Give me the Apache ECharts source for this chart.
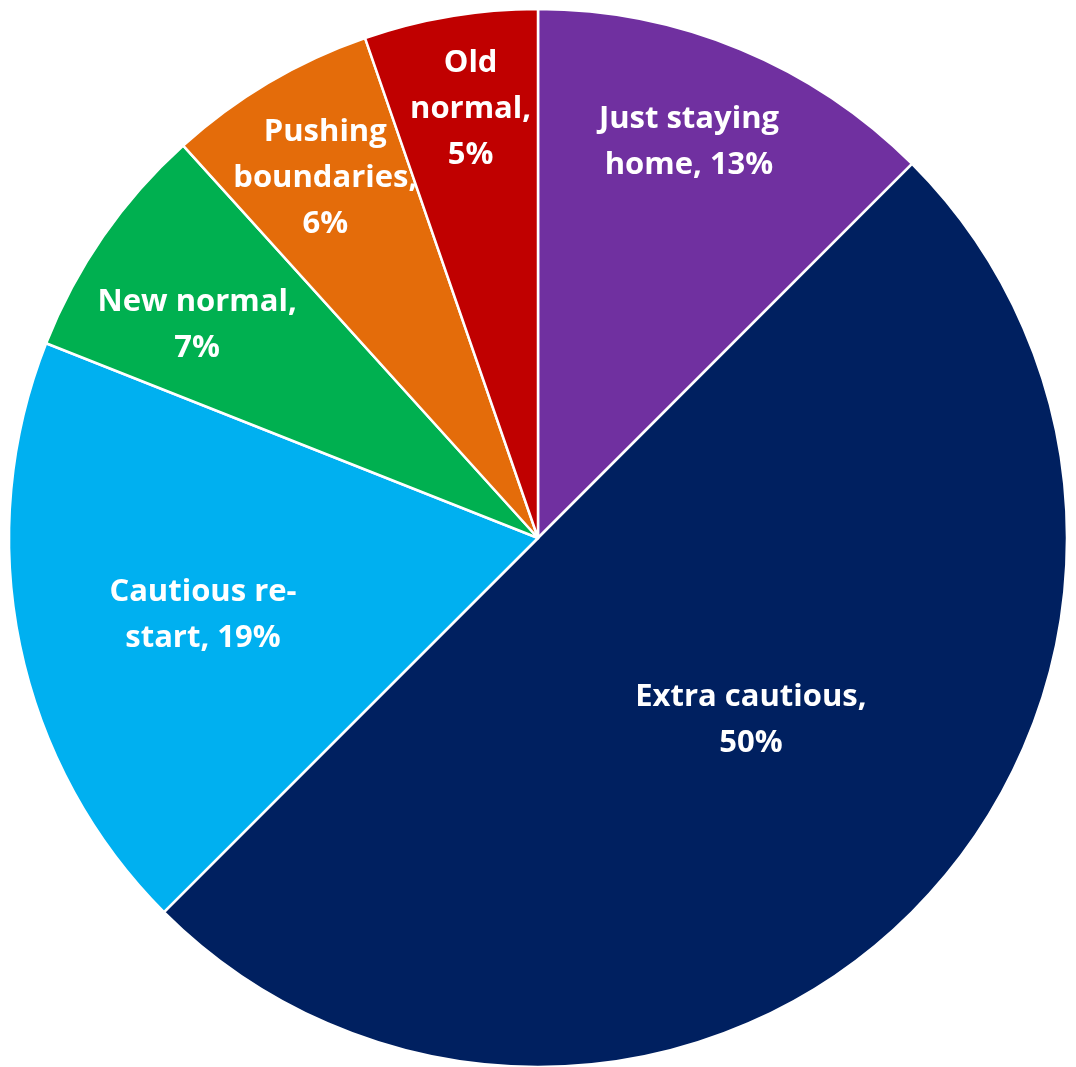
<!DOCTYPE html>
<html>
<head>
<meta charset="utf-8">
<script src="https://cdn.jsdelivr.net/npm/echarts@6/dist/echarts.min.js"></script>
<style>
html,body{margin:0;padding:0;background:#fff;}
#chart{width:1076px;height:1067px;}
</style>
</head>
<body>
<div id="chart"></div>
<script>
// Data (clockwise from 12 o'clock)
var categories = ['Just staying home', 'Extra cautious', 'Cautious re-start', 'New normal', 'Pushing boundaries', 'Old normal'];
var values = [12.5, 50, 18.5, 7.3, 6.4, 5.3];
var pctLabels = ['13%', '50%', '19%', '7%', '6%', '5%'];
var labelTexts = ['Just staying\nhome, 13%', 'Extra cautious,\n50%', 'Cautious re-\nstart, 19%', 'New normal,\n7%', 'Pushing\nboundaries,\n6%', 'Old\nnormal,\n5%'];
var colors = ['#7030A0', '#002060', '#00B0F0', '#00B050', '#E46C0A', '#C00000'];
// label placement: fraction of the radius and angular nudge (degrees) from the slice's mid-angle
var labelRadiusFrac = [0.80, 0.53, 0.65, 0.76, 0.79, 0.82];
var labelAngleNudge = [-1.6, -4.4, -1.3, -2.7, 0, 0.6];

var CX = 538, CY = 538, R = 529;
var total = values.reduce(function (a, b) { return a + b; }, 0);

var chart = echarts.init(document.getElementById('chart'), null, {renderer: 'canvas'});
chart.setOption({
  animation: false,
  backgroundColor: '#ffffff',
  series: [{
    type: 'pie',
    center: [CX, CY],
    radius: [0, R],
    startAngle: 90,
    clockwise: true,
    avoidLabelOverlap: false,
    itemStyle: {borderColor: '#ffffff', borderWidth: 2.5},
    label: {
      show: true,
      position: 'inside',
      color: '#ffffff',
      fontFamily: 'Open Sans',
      fontWeight: 'bold',
      fontSize: 31,
      lineHeight: 46,
      align: 'center',
      verticalAlign: 'middle',
      formatter: function (p) { return labelTexts[p.dataIndex]; }
    },
    labelLine: {show: false},
    emphasis: {disabled: true},
    labelLayout: function (params) {
      var i = params.dataIndex;
      var before = 0;
      for (var k = 0; k < i; k++) before += values[k];
      var mid = (before + values[i] / 2) / total * 2 * Math.PI + labelAngleNudge[i] * Math.PI / 180;
      var d = labelRadiusFrac[i] * R;
      return {x: CX + d * Math.sin(mid), y: CY - d * Math.cos(mid), hideOverlap: false};
    },
    data: categories.map(function (c, i) {
      return {name: c, value: values[i], itemStyle: {color: colors[i]}};
    })
  }]
});
</script>
</body>
</html>
